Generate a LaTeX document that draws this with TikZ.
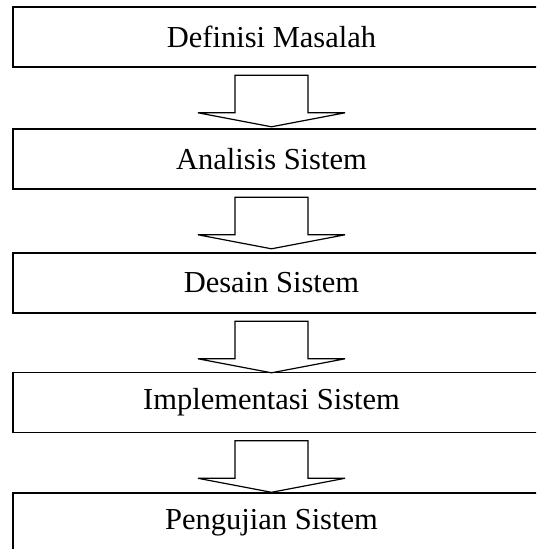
\documentclass[tikz,border=0pt]{standalone}
\usepackage{fontspec}
\setmainfont{Liberation Serif}
\usetikzlibrary{calc}
\tikzset{
  box/.style={draw=black, line width=1.6pt, rectangle, minimum width=532pt, minimum height=60pt, inner sep=0pt},
  lbl/.style={font=\fontsize{30.5}{36}\selectfont, inner sep=0pt, anchor=center},
  arr/.style={draw=black, line width=1.2pt, line join=miter, fill=white}
}
\newcommand\blockarrow[2]{%
  \draw[arr] ($(#1.south)+(-36.5,-7.5)$) coordinate (#2) -- ++(0,-37.5) -- ++(-37,0)
    -- ++(73.5,-14) -- ++(73.5,14) -- ++(-37,0) -- ++(0,37.5) -- cycle;}
\begin{document}
\begin{tikzpicture}[x=1pt,y=1pt]
\useasboundingbox (0,0) rectangle (536,549);
\clip (0,0) rectangle (536,549);
% boxes (right edge runs off the picture)
\node[box] (b1) at (279,512) {};
\node[box] (b2) at (279,390) {};
\node[box] (b3) at (279,266) {};
\node[box] (b4) at (279,146.5) {};
\node[box] (b5) at (279,26) {};
% labels
\node[lbl] (t1) at (271.5,512) {Definisi Masalah};
\node[lbl] (t2) at (271.5,390) {Analisis Sistem};
\node[lbl] (t3) at (271.5,266) {Desain Sistem};
\node[lbl] (t4) at (271.5,146.5) {Implementasi Sistem};
\node[lbl] (t5) at (271.5,26) {Pengujian Sistem};
% block arrows between boxes, centred under the labels
\coordinate (c1) at (t1 |- b1.south);
\coordinate (c2) at (t2 |- b2.south);
\coordinate (c3) at (t3 |- b3.south);
\coordinate (c4) at (t4 |- b4.south);
\blockarrow{c1}{a1}
\blockarrow{c2}{a2}
\blockarrow{c3}{a3}
\blockarrow{c4}{a4}
\end{tikzpicture}
\end{document}
